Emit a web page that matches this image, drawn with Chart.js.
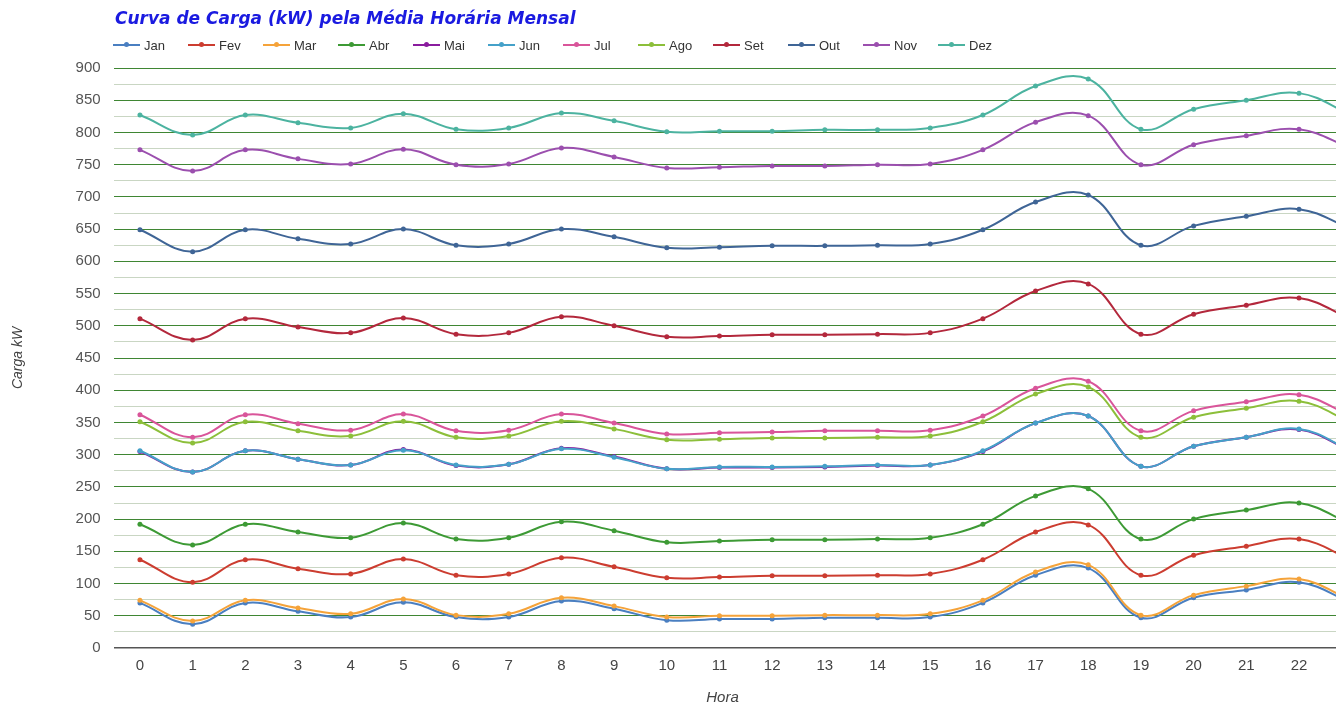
<!DOCTYPE html>
<html>
<head>
<meta charset="utf-8">
<script src="https://cdn.jsdelivr.net/npm/chart.js@4/dist/chart.umd.min.js"></script>
<style>
html,body{margin:0;padding:0;background:#fff;overflow:hidden;}
#wrap{position:relative;width:1336px;height:706px;overflow:hidden;}
#chart{position:absolute;left:0;top:0;}
#title{position:absolute;left:115px;top:8px;font:bold italic 17px "DejaVu Sans",Verdana,sans-serif;color:#1a1ae0;white-space:nowrap;}
#legend{position:absolute;left:113px;top:37px;display:flex;font:13px "Liberation Sans",Arial,sans-serif;color:#333;}
.item{width:75px;display:flex;align-items:center;height:16px;}
.sw{position:relative;width:27px;height:2px;margin-right:4px;}
.sw i{position:absolute;left:11px;top:-2px;width:5px;height:5px;border-radius:50%;}
#xtitle{position:absolute;left:0;width:1445px;top:688px;text-align:center;font:italic 15px "Liberation Sans",Arial,sans-serif;color:#444;}
</style>
</head>
<body>
<div id="wrap">
<canvas id="chart" width="1382" height="706"></canvas>
<div id="title">Curva de Carga (kW) pela Média Horária Mensal</div>
<div id="legend"></div>
<div id="xtitle">Hora</div>
</div>
<script>
// horas do dia
const hours=["0","1","2","3","4","5","6","7","8","9","10","11","12","13","14","15","16","17","18","19","20","21","22","23"];

const months=["Jan","Fev","Mar","Abr","Mai","Jun","Jul","Ago","Set","Out","Nov","Dez"];
const colors=["#4a7fc1","#cc3d30","#f5a33a","#3d9a35","#8a1c9e","#45a1c9","#d9559a","#8cbf3a","#b3283c","#3f6596","#9b4fae","#4cb3a0"];

// carga media por hora (kW)
const jan=[70,37,70,57,48,71,48,48,73,61,43,45,45,47,47,48,70,113,124,47,78,90,102,70];
const fev=[137,102,137,123,115,138,113,115,140,126,109,110,112,112,113,115,137,180,191,113,144,158,169,137];
const mar=[74,42,74,62,53,76,51,53,78,65,48,50,50,51,51,53,74,118,129,51,82,96,107,74];
const abr=[192,160,192,180,171,194,169,171,196,182,164,166,168,168,169,171,192,236,247,169,200,214,225,192];
const mai=[305,273,306,293,284,308,283,285,310,297,278,280,280,281,283,284,305,349,360,282,313,327,339,305];
const jun=[306,273,306,293,284,307,284,285,309,296,278,281,281,282,284,284,306,349,360,282,313,327,340,306];
const jul=[362,327,362,348,338,363,337,338,363,349,332,334,335,337,337,338,360,403,414,337,368,382,393,360];
const ago=[351,318,351,337,329,352,327,329,352,340,323,324,326,326,327,329,351,394,405,327,358,372,383,350];
const set=[511,478,511,498,489,512,487,489,514,500,483,484,486,486,487,489,511,554,565,487,518,532,543,510];
const out=[649,615,649,635,627,650,625,627,650,638,621,622,624,624,625,627,649,692,703,625,655,670,681,650];
const nov=[773,740,773,759,751,774,750,751,776,762,745,746,748,748,750,751,773,816,826,750,781,795,805,775];
const dez=[827,796,827,815,807,829,805,807,830,818,801,802,802,804,804,807,827,872,883,805,836,850,861,827];

const series=[jan,fev,mar,abr,mai,jun,jul,ago,set,out,nov,dez];

// legenda
const leg=document.getElementById("legend");
months.forEach((m,i)=>{
const it=document.createElement("div");
it.className="item";
it.innerHTML='<span class="sw" style="background:'+colors[i]+'"><i style="background:'+colors[i]+'"></i></span>'+m;
leg.appendChild(it);
});

const datasets=series.map((d,i)=>({
label:months[i],
data:d,
borderColor:colors[i],
backgroundColor:colors[i],
borderWidth:2,
pointRadius:2.5,
pointBorderWidth:0,
tension:0.4,
order:-i
}));

new Chart(document.getElementById("chart"),{
type:"line",
data:{labels:hours,datasets:datasets},
options:{
responsive:false,
animation:false,
devicePixelRatio:1,
layout:{padding:{left:10,top:68,right:0,bottom:0}},
plugins:{legend:{display:false},title:{display:false},tooltip:{enabled:false}},
scales:{
x:{
offset:true,
grid:{display:false,drawTicks:false},
border:{display:false},
ticks:{padding:9,color:"#444",font:{family:"Liberation Sans, Arial",size:15},maxRotation:0,autoSkip:false},
afterFit:s=>{s.height=58;}
},
y:{
min:0,max:900,
border:{display:false},
grid:{
drawTicks:false,
color:c=>c.tick.value===0?"#555":(c.tick.value%50===0?"#3f8633":"#c9d6c3"),
lineWidth:c=>c.tick.value===0?1.5:1
},
ticks:{stepSize:25,autoSkip:false,padding:13,color:"#555",font:{family:"Liberation Sans, Arial",size:15},
callback:v=>v%50===0?v:""},
title:{display:true,text:"Carga kW",color:"#444",font:{family:"Liberation Sans, Arial",size:14,style:"italic"},padding:{top:0,bottom:0}},
afterFit:s=>{s.width=103.6;}
}
}
}
});
</script>
</body>
</html>
